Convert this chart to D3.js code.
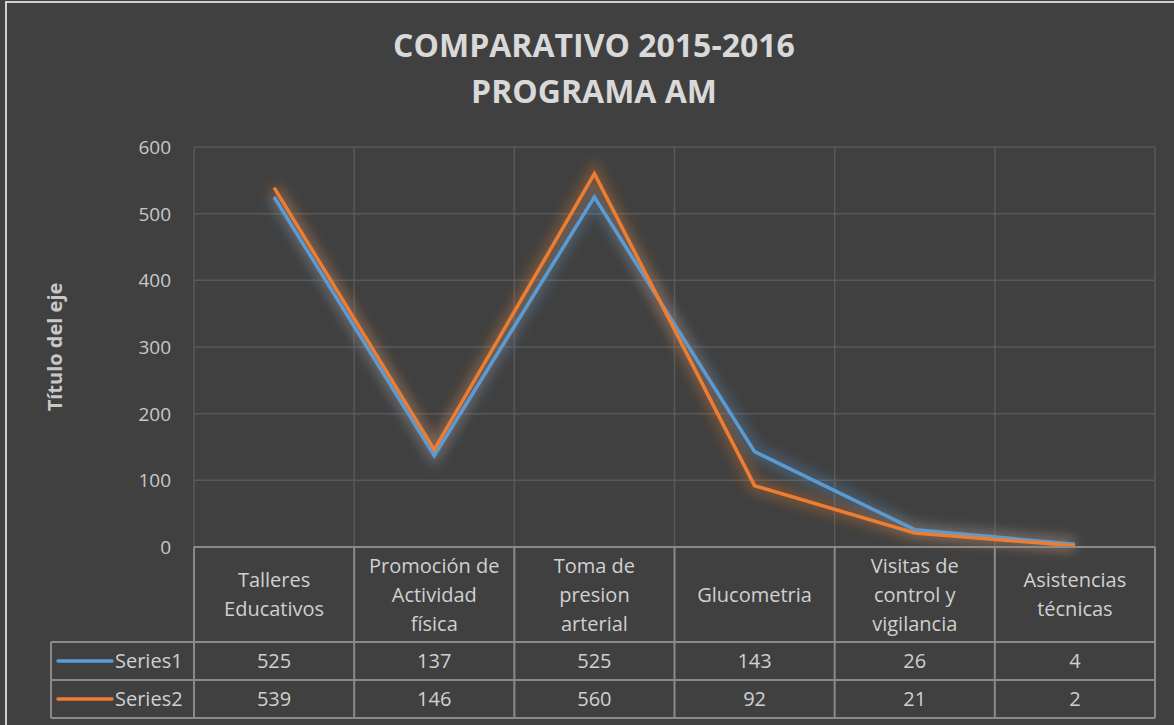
<!DOCTYPE html>
<html>
<head>
<meta charset="utf-8">
<script src="https://cdn.jsdelivr.net/npm/d3@7"></script>
<style>
  html, body { margin: 0; padding: 0; background: #404040; }
  svg { display: block; }
  text { font-family: "Open Sans", "Noto Sans", sans-serif; }
</style>
</head>
<body>
<div id="chart"></div>
<script>
// data
var categories = [
    ["Talleres", "Educativos"],
    ["Promoción de", "Actividad", "física"],
    ["Toma de", "presion", "arterial"],
    ["Glucometria"],
    ["Visitas de", "control y", "vigilancia"],
    ["Asistencias", "técnicas"]
];
var seriesNames = ["Series1", "Series2"];
var series1 = [525, 137, 525, 143, 26, 4];
var series2 = [539, 146, 560, 92, 21, 2];
var seriesColors = ["#5b9bd5", "#ed7d31"];
var yTicks = [0, 100, 200, 300, 400, 500, 600];

var width = 1174;
var height = 725;
// plot area edges (window.top is reserved, so no "top")
var plotLeft = 194, plotRight = 1155, plotTop = 147, plotBottom = 547;
var headerBottom = 642, rowH = 38, legendLeft = 51;

var svg = d3.select("#chart").append("svg")
    .attr("width", width)
    .attr("height", height);

// glow filter
var defs = svg.append("defs");
defs.append("filter").attr("id", "glow")
    .attr("x", "-20%").attr("y", "-20%").attr("width", "140%").attr("height", "140%")
    .append("feGaussianBlur").attr("stdDeviation", 6);

// background + outer border
svg.append("rect")
    .attr("x", 6).attr("y", 2)
    .attr("width", width + 10).attr("height", height + 10)
    .attr("fill", "#404040")
    .attr("stroke", "#d0d0d0")
    .attr("stroke-width", 2);

var x = d3.scaleBand()
    .domain(d3.range(categories.length))
    .range([plotLeft, plotRight]);

var y = d3.scaleLinear()
    .domain([0, 600])
    .range([plotBottom, plotTop]);

// horizontal gridlines
svg.append("g").selectAll("line")
    .data(yTicks.slice(1))
    .enter()
    .append("line")
    .attr("x1", plotLeft).attr("x2", plotRight)
    .attr("y1", d => y(d)).attr("y2", d => y(d))
    .attr("stroke", "#595959")
    .attr("stroke-width", 1.5);

// vertical gridlines at category boundaries
var bounds = d3.range(categories.length + 1).map(i => plotLeft + i * x.bandwidth());
svg.append("g").selectAll("line")
    .data(bounds)
    .enter()
    .append("line")
    .attr("x1", d => d).attr("x2", d => d)
    .attr("y1", plotTop).attr("y2", plotBottom)
    .attr("stroke", "#595959")
    .attr("stroke-width", 1.5);

// y axis
var yAxis = svg.append("g")
    .attr("transform", "translate(" + (plotLeft - 23) + ",0)")
    .call(d3.axisLeft(y).tickValues(yTicks).tickSize(0).tickPadding(0));
yAxis.select(".domain").remove();
yAxis.selectAll("text")
    .attr("fill", "#c8c8c8")
    .style("font-size", "19px")
    .style("font-family", "'Open Sans', sans-serif")
    .attr("dy", "0.35em");

// axis title
svg.append("text")
    .attr("transform", "translate(62," + (plotTop + plotBottom) / 2 + ") rotate(-90)")
    .attr("text-anchor", "middle")
    .attr("fill", "#c8c8c8")
    .style("font-size", "20px")
    .style("font-weight", "bold")
    .text("Título del eje");

// title
var title = svg.append("text")
    .attr("text-anchor", "middle")
    .attr("fill", "#d9d9d9")
    .style("font-size", "32px")
    .style("font-weight", "bold");
title.append("tspan").attr("x", 594).attr("y", 57).text("COMPARATIVO 2015-2016");
title.append("tspan").attr("x", 594).attr("y", 103).text("PROGRAMA AM");

// lines
var allSeries = [series1, series2];
var line = d3.line()
    .x((d, i) => x(i) + x.bandwidth() / 2)
    .y(d => y(d));

allSeries.forEach(function(s, k) {
    svg.append("path")
        .datum(s)
        .attr("d", line)
        .attr("fill", "none")
        .attr("stroke", seriesColors[k])
        .attr("stroke-width", 14)
        .attr("stroke-opacity", 0.3)
        .attr("filter", "url(#glow)");
});
allSeries.forEach(function(s, k) {
    svg.append("path")
        .datum(s)
        .attr("d", line)
        .attr("fill", "none")
        .attr("stroke", seriesColors[k])
        .attr("stroke-width", 3.5)
        .attr("stroke-linejoin", "miter");
});

// data table
var tableColor = "#8a8a8a";
var table = svg.append("g");
var rowsBottom = headerBottom + rowH * allSeries.length;

// horizontal lines
table.append("line").attr("x1", plotLeft).attr("x2", plotRight).attr("y1", plotBottom).attr("y2", plotBottom);
d3.range(allSeries.length + 1).forEach(function(r) {
    var yy = headerBottom + r * rowH;
    table.append("line").attr("x1", legendLeft).attr("x2", plotRight).attr("y1", yy).attr("y2", yy);
});
// vertical lines
bounds.forEach(function(b) {
    table.append("line").attr("x1", b).attr("x2", b).attr("y1", plotBottom).attr("y2", rowsBottom);
});
table.append("line").attr("x1", legendLeft).attr("x2", legendLeft).attr("y1", headerBottom).attr("y2", rowsBottom);
table.selectAll("line").attr("stroke", tableColor).attr("stroke-width", 2);

// header labels
var headerMid = (plotBottom + headerBottom) / 2;
categories.forEach(function(lines, i) {
    var t = table.append("text")
        .attr("text-anchor", "middle")
        .attr("fill", "#d0d0d0")
        .style("font-size", "20px");
    var y0 = headerMid - (lines.length - 1) * 29 / 2 + 7;
    lines.forEach(function(l, j) {
        t.append("tspan")
            .attr("x", x(i) + x.bandwidth() / 2)
            .attr("y", y0 + j * 29)
            .text(l);
    });
});

// value rows
allSeries.forEach(function(s, k) {
    var cy = headerBottom + k * rowH + rowH / 2;
    table.append("line")
        .attr("x1", 58).attr("x2", 112)
        .attr("y1", cy).attr("y2", cy)
        .attr("stroke", seriesColors[k])
        .attr("stroke-width", 3.5)
        .attr("stroke-linecap", "round");
    table.append("text")
        .attr("x", 115).attr("y", cy + 7)
        .attr("fill", "#d0d0d0")
        .style("font-size", "20px")
        .text(seriesNames[k]);
    table.append("g").selectAll("text")
        .data(s)
        .enter()
        .append("text")
        .attr("x", (d, i) => x(i) + x.bandwidth() / 2)
        .attr("y", cy + 7)
        .attr("text-anchor", "middle")
        .attr("fill", "#d0d0d0")
        .style("font-size", "20px")
        .text(d => d);
});
</script>
</body>
</html>
